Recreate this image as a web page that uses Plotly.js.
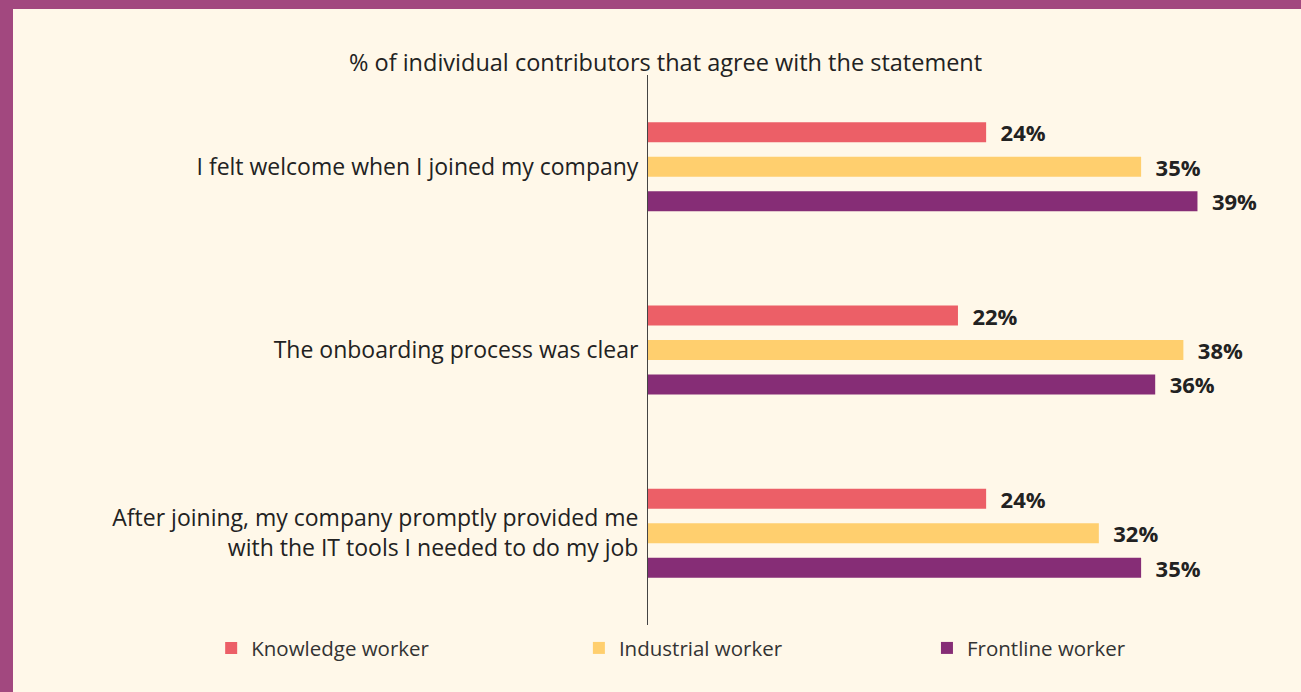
<!DOCTYPE html>
<html>
<head>
<meta charset="utf-8">
<script src="https://cdn.plot.ly/plotly-3.0.1.min.js"></script>
<style>
  html, body { margin: 0; padding: 0; width: 1301px; height: 692px; overflow: hidden; background: #A2487F; }
  #chart { position: absolute; left: 13px; top: 9px; width: 1288px; height: 683px; }
</style>
</head>
<body>
<div id="chart"></div>
<script>
const categories = [
  "I felt welcome when I joined my company",
  "The onboarding process was clear",
  "After joining, my company promptly provided me<br>with the IT tools I needed to do my job"
];
const seriesNames = ["Knowledge worker", "Industrial worker", "Frontline worker"];
const knowledge = [24, 22, 24];
const industrial = [35, 38, 32];
const frontline = [39, 36, 35];
const colors = ["#EC5F67", "#FFCF6E", "#862D76"];
const titleText = "% of individual contributors that agree with the statement";

const values = [knowledge, industrial, frontline];
const legendIds = ["legend", "legend2", "legend3"];
const FONT = "Open Sans, sans-serif";

const traces = values.map((v, i) => ({
  type: "bar",
  orientation: "h",
  name: seriesNames[i],
  x: v,
  y: categories,
  marker: { color: colors[i] },
  text: v.map(n => "\u00a0\u00a0" + n + "%"),
  texttemplate: "%{text}",
  textposition: "outside",
  textfont: { family: FONT, size: 22, color: "#222222", weight: "bold" },
  constraintext: "none",
  cliponaxis: false,
  hoverinfo: "skip",
  legend: legendIds[i]
}));

const legendBase = {
  orientation: "h",
  yref: "paper",
  y: -0.042,
  yanchor: "middle",
  xanchor: "left",
  bgcolor: "rgba(0,0,0,0)",
  font: { family: FONT, size: 20.5, color: "#333333" }
};

const layout = {
  width: 1288,
  height: 683,
  paper_bgcolor: "#FFF8E9",
  plot_bgcolor: "#FFF8E9",
  margin: { l: 635, r: 19, t: 66, b: 67 },
  barmode: "group",
  bargap: 0.436,
  bargroupgap: 0.42,
  showlegend: true,
  legend: Object.assign({}, legendBase, { x: -0.689 }),
  legend2: Object.assign({}, legendBase, { x: -0.109 }),
  legend3: Object.assign({}, legendBase, { x: 0.440 }),
  xaxis: {
    range: [0, 45],
    visible: false,
    fixedrange: true
  },
  yaxis: {
    autorange: "reversed",
    showline: true,
    linecolor: "#444444",
    linewidth: 1,
    ticks: "",
    ticklabelstandoff: 4,
    tickfont: { family: FONT, size: 23, color: "#222222" },
    showgrid: false,
    zeroline: false,
    fixedrange: true
  },
  annotations: [{
    text: titleText,
    xref: "paper",
    yref: "paper",
    x: 0.027,
    y: 1,
    xanchor: "center",
    yanchor: "bottom",
    yshift: -5,
    showarrow: false,
    font: { family: FONT, size: 23.5, color: "#222222" }
  }]
};

Plotly.newPlot("chart", traces, layout, { displayModeBar: false, staticPlot: true });
</script>
</body>
</html>
